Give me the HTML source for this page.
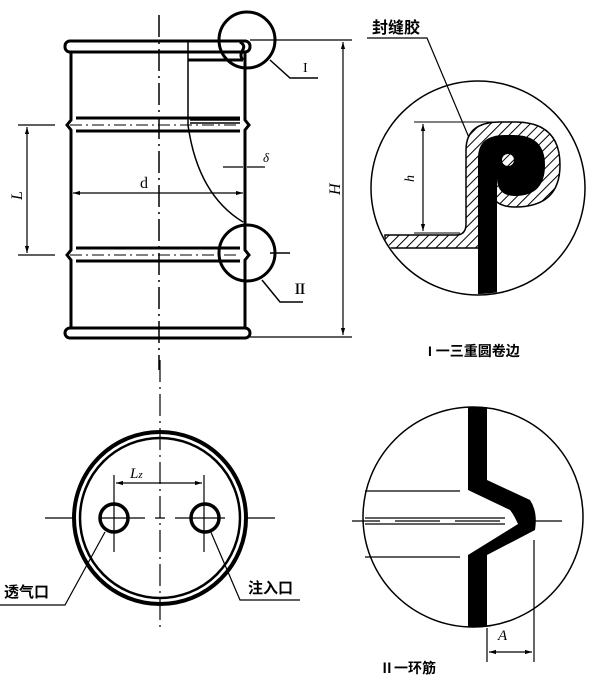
<!DOCTYPE html>
<html><head><meta charset="utf-8"><style>
html,body{margin:0;padding:0;background:#fff;}
svg{display:block}
text{font-family:"Liberation Serif","Noto Serif CJK SC",serif;fill:#000}
.cn{font-family:"Liberation Sans","Noto Sans CJK SC",sans-serif;font-weight:bold}
</style></head><body>
<svg width="600" height="688" viewBox="0 0 600 688" xmlns="http://www.w3.org/2000/svg">
<defs>
<pattern id="h" width="7" height="7" patternUnits="userSpaceOnUse" patternTransform="rotate(45)">
<rect width="7" height="7" fill="#fff"/><line x1="0" y1="0" x2="0" y2="7" stroke="#000" stroke-width="2"/></pattern>
<marker id="a" viewBox="0 0 10 10" refX="10" refY="5" markerWidth="6" markerHeight="6" orient="auto-start-reverse"><path d="M0,2 L10,5 L0,8z" fill="#000"/></marker>
<clipPath id="c1"><circle cx="478" cy="188" r="106"/></clipPath>
</defs>
<g fill="none" stroke="#000">
<rect x="65" y="41" width="185" height="11" rx="5" stroke-width="3"/>
<rect x="65" y="328" width="185" height="10" rx="5" stroke-width="3"/>
<path d="M71,52 V120 L67,125 L71,130 V250 L67,255 L71,260 V328" stroke-width="3"/>
<path d="M245,52 V120 L249,125 L245,130 V250 L249,255 L245,260 V328" stroke-width="3"/>
<path d="M76,118 H240 M76,131 H240 M76,248 H240 M76,261 H240" stroke-width="3"/>
<path d="M70,125 H240 M70,255 H240" stroke-width="1" stroke-dasharray="12,4,2,4"/>
<path d="M190,120 H240 M190,123 H240" stroke-width="1.5"/>
<path d="M188,42 V125 C195,175 215,205 243,222" stroke-width="1.5"/>
<path d="M188,60 H243" stroke-width="3"/>
<path d="M240,42 C250,48 236,52 243,60" stroke-width="3"/>
<path d="M159,15 V370" stroke-width="1.5" stroke-dasharray="22,5,2,5"/>
<circle cx="247" cy="40" r="28" stroke-width="3"/>
<circle cx="247" cy="253" r="28" stroke-width="3"/>
<path d="M270,60 L290,78 H318" stroke-width="1.5"/>
<path d="M262,280 L280,302 H303" stroke-width="1.5"/>
<path d="M270,253 H290" stroke-width="1.5"/>
<path d="M250,40 H352 M250,337 H352" stroke-width="1.2"/>
<path d="M343,42 V335" stroke-width="1.2" marker-start="url(#a)" marker-end="url(#a)"/>
<path d="M18,125 H55 M18,255 H55" stroke-width="1.2"/>
<path d="M27,127 V253" stroke-width="1.2" marker-start="url(#a)" marker-end="url(#a)"/>
<path d="M73,193 H243" stroke-width="1.2" marker-start="url(#a)" marker-end="url(#a)"/>
<path d="M223,167 H243 M247,167 H265" stroke-width="1.2"/>
<circle cx="478" cy="188" r="107" stroke-width="1.5"/>
<path d="M367,38 H427 L470,140" stroke-width="1.2"/>
<path d="M414,122 H520 M414,233 H460" stroke-width="1"/>
<path d="M423,124 V231" stroke-width="1.2" marker-start="url(#a)" marker-end="url(#a)"/>
</g>
<g clip-path="url(#c1)">
<path d="M385,235 H456 Q466,235 466,224 V150 Q466,122 500,122 H515 Q560,122 560,165 Q560,207 515,207 Q490,207 490,185 V248 H385 Z" fill="url(#h)" stroke="#000" stroke-width="1.5"/>
<path d="M478,300 V158 Q478,135 505,135 H513 Q545,135 545,165 Q545,196 515,196 Q497,196 497,178 V300 Z" fill="#000"/>
<circle cx="508" cy="160" r="6" fill="url(#h)"/>
</g>
<text x="372" y="33" class="cn" font-size="16">封缝胶</text>
<text x="0" y="0" font-size="14" font-style="italic" transform="translate(414,182) rotate(-90)">h</text>
<text x="428" y="356" class="cn" font-size="14">I 一三重圆卷边</text>
<text x="140" y="188" font-size="16" font-family="Liberation Sans">d</text>
<text x="263" y="162" font-size="13" font-style="italic">δ</text>
<text x="303" y="72" font-size="14">I</text>
<text x="293" y="294" font-size="14" font-weight="bold">Ⅱ</text>
<text x="0" y="0" font-size="16" font-style="italic" transform="translate(340,195) rotate(-90)">H</text>
<text x="0" y="0" font-size="16" font-style="italic" transform="translate(22,200) rotate(-90)">L</text>
<g fill="none" stroke="#000">
<circle cx="160" cy="518" r="86" stroke-width="4"/>
<circle cx="160" cy="518" r="80" stroke-width="2.5"/>
<circle cx="114" cy="518" r="14" stroke-width="3.5"/>
<circle cx="205" cy="518" r="14" stroke-width="3.5"/>
<path d="M45,518 H75 M100,518 H145 M155,518 H165 M175,518 H225 M245,518 H275" stroke-width="1.2"/>
<path d="M160,360 V630" stroke-width="1.2" stroke-dasharray="22,5,2,5"/>
<path d="M114,475 V552 M204,475 V552" stroke-width="1.2"/>
<path d="M116,483 H202" stroke-width="1.2" marker-start="url(#a)" marker-end="url(#a)"/>
<path d="M105,532 L65,605 H0" stroke-width="1.2"/>
<path d="M210,530 L240,600 H300" stroke-width="1.2"/>
</g>
<text x="130" y="478" font-size="15" font-style="italic">L<tspan font-size="11">z</tspan></text>
<text x="4" y="597" class="cn" font-size="15" font-weight="normal">透气口</text>
<text x="248" y="593" class="cn" font-size="15" font-weight="normal">注入口</text>
<g fill="none" stroke="#000">
<circle cx="473" cy="517" r="110" stroke-width="1.5"/>
<path d="M365,491 H460 M365,557 H460 M365,518 H505 M365,524 H505" stroke-width="1.2"/>
<path d="M352,521 H380 M395,521 H440 M455,521 H500 M535,521 H562" stroke-width="1.2"/>
<path d="M487,628 V662 M534,540 V662" stroke-width="1.2"/>
<path d="M489,652 H532" stroke-width="1.2" marker-start="url(#a)" marker-end="url(#a)"/>
</g>
<path d="M468,407 H487 V480 L530,500 Q538,512 535,530 L487,555 V627 H468 V555 L518,524 Q514,515 510,510 L468,490 Z" fill="#000"/>
<text x="498" y="640" font-size="15" font-style="italic">A</text>
<text x="380" y="673" class="cn" font-size="14">Ⅱ一环筋</text>
</svg>
</body></html>
